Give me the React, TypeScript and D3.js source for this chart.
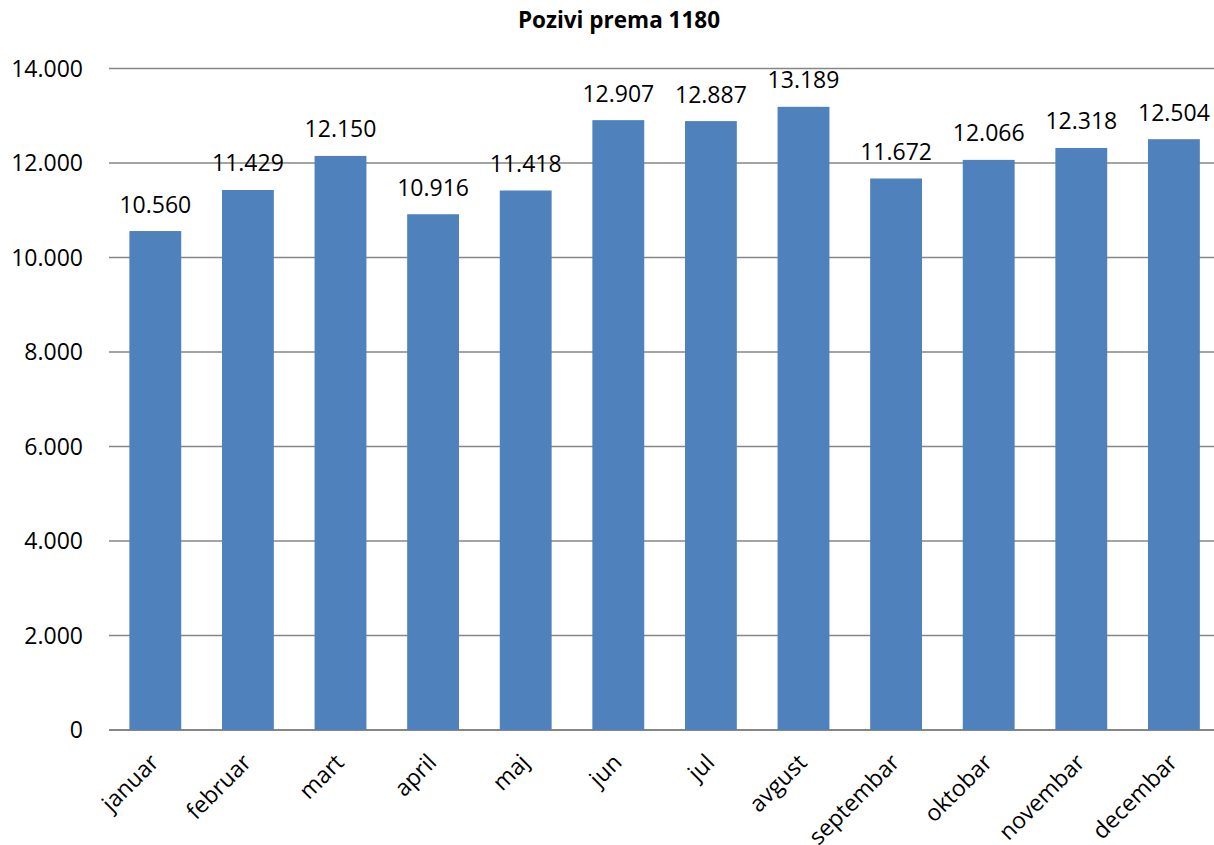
import React from "react";
import * as d3 from "d3";

const title = "Pozivi prema 1180";
const months = ["januar", "februar", "mart", "april", "maj", "jun", "jul", "avgust", "septembar", "oktobar", "novembar", "decembar"];
const calls = [10560, 11429, 12150, 10916, 11418, 12907, 12887, 13189, 11672, 12066, 12318, 12504];
const yTicks = [0, 2000, 4000, 6000, 8000, 10000, 12000, 14000];

const W = 1214;
const H = 845;
const left = 109;
const step = 92.6;
const top = 68.5;
const bottom = 730;
const FONT = "'Open Sans', sans-serif";

const locale = d3.formatLocale({ decimal: ",", thousands: ".", grouping: [3], currency: ["", ""] });
const fmt = locale.format(",d");

export default function App() {
  const x = d3.scaleBand<string>().domain(months).range([left, left + step * months.length]).paddingInner(0.44).paddingOuter(0.22);
  const y = d3.scaleLinear().domain([0, 14000]).range([bottom, top]);
  return (
    <div style={{ position: "absolute", left: 0, top: 0 }}>
      <svg width={W} height={H} style={{ display: "block", background: "#fff" }} fontFamily={FONT}>
        <text x={619} y={28} textAnchor="middle" fontSize={22.5} fontWeight="bold" fill="#000">{title}</text>
        {yTicks.map((t) => (
          <g key={t}>
            <line x1={left} x2={W} y1={y(t)} y2={y(t)} stroke="#868686" strokeWidth={t === 0 ? 2 : 1.5} />
            <text x={83} y={y(t)} dy="0.36em" textAnchor="end" fontSize={23} fill="#000">{fmt(t)}</text>
          </g>
        ))}
        {months.map((m, i) => {
          const bx = x(m)!;
          const cx = bx + x.bandwidth() / 2;
          return (
            <g key={m}>
              <rect x={bx} y={y(calls[i])} width={x.bandwidth()} height={bottom - y(calls[i])} fill="#4F81BD" />
              <text x={cx} y={y(calls[i]) - 18.5} textAnchor="middle" fontSize={23} fill="#000">{fmt(calls[i])}</text>
              <text transform={`translate(${cx - 1},${758}) rotate(-45)`} dy="0.36em" textAnchor="end" fontSize={23} fill="#000">{m}</text>
            </g>
          );
        })}
      </svg>
    </div>
  );
}
